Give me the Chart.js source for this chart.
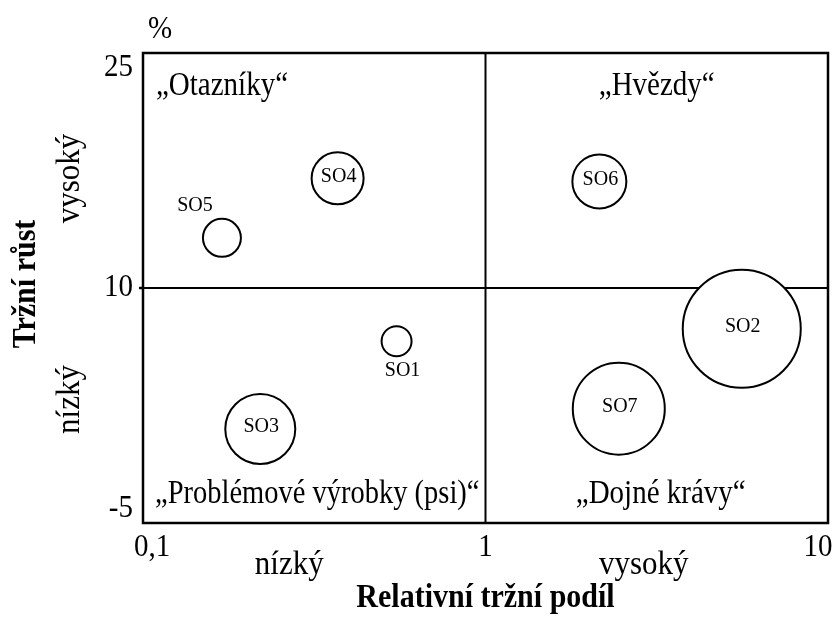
<!DOCTYPE html>
<html>
<head>
<meta charset="utf-8">
<script src="https://cdn.jsdelivr.net/npm/chart.js@4/dist/chart.umd.min.js"></script>
<style>
  body { margin: 0; background: #fff; }
</style>
</head>
<body>
<canvas id="bcg" width="837" height="623"></canvas>
<script>
// BCG matrix data
const names = ['SO1', 'SO2', 'SO3', 'SO4', 'SO5', 'SO6', 'SO7'];
const shares = [0.55, 5.6, 0.22, 0.37, 0.17, 2.15, 2.45];   // relativni trzni podil
const growth = [6.6, 7.4, 1.0, 17.0, 13.2, 16.8, 2.3];       // trzni rust %
const sizes = [15, 59, 35, 26, 19, 27, 46];

const xTicks = [0.1, 1, 10];
const xTickLabels = ['0,1', '1', '10'];
const yTicks = [-5, 10, 25];
const yTickLabels = ['-5', '10', '25'];

// where the bubble caption goes (offset from center), otherwise centered
const labelOffsets = { SO1: [6, 29], SO5: [-27, -32] };

const FONT = '"Liberation Serif", "Times New Roman", serif';

function txt(ctx, s, x, y, size, o) {
    o = o || {};
    ctx.save();
    ctx.translate(x, y);
    if (o.rot) ctx.rotate(o.rot);
    ctx.scale(1, o.sy || 1);
    ctx.font = (o.bold ? 'bold ' : '') + size + 'px ' + FONT;
    ctx.fillStyle = '#000';
    ctx.textAlign = o.align || 'center';
    ctx.textBaseline = o.base || 'middle';
    ctx.fillText(s, 0, 0);
    ctx.restore();
}

const matrixPlugin = {
    id: 'matrix',
    beforeDatasetsDraw(chart) {
        const { ctx, chartArea: a, scales: { x, y } } = chart;
        const mx = x.getPixelForValue(1);
        const my = y.getPixelForValue(10);
        ctx.save();
        ctx.strokeStyle = '#000';
        ctx.lineWidth = 2;
        ctx.beginPath();
        ctx.moveTo(mx, a.top); ctx.lineTo(mx, a.bottom);
        ctx.moveTo(a.left, my); ctx.lineTo(a.right, my);
        ctx.stroke();
        ctx.restore();
    },
    afterDraw(chart) {
        const { ctx, chartArea: a, scales: { x, y } } = chart;
        ctx.save();
        ctx.strokeStyle = '#000';
        ctx.lineWidth = 2.5;
        ctx.strokeRect(a.left, a.top, a.right - a.left, a.bottom - a.top);
        // small tick at 10
        ctx.beginPath();
        ctx.moveTo(a.left - 4, y.getPixelForValue(10));
        ctx.lineTo(a.left, y.getPixelForValue(10));
        ctx.stroke();
        ctx.restore();

        // y ticks
        yTicks.forEach((v, i) => {
            let py = y.getPixelForValue(v);
            if (i === 0) py -= 14;
            if (i === yTicks.length - 1) py += 15;
            txt(ctx, yTickLabels[i], a.left - 10, py, 29, { align: 'right', sy: 1.1 });
        });
        // x ticks
        xTicks.forEach((v, i) => {
            let px = x.getPixelForValue(v);
            if (i === 0) px += 9;
            if (i === xTicks.length - 1) px -= 10;
            txt(ctx, xTickLabels[i], px, a.bottom + 25, 29, { sy: 1.1 });
        });
        txt(ctx, '%', 160, 30, 29, { sy: 1.1 });

        const mx = x.getPixelForValue(1);
        const my = y.getPixelForValue(10);
        // axis sub labels
        txt(ctx, 'nízký', (a.left + mx) / 2 - 25, a.bottom + 42, 31, { sy: 1.1 });
        txt(ctx, 'vysoký', (mx + a.right) / 2 - 13, a.bottom + 42, 31, { sy: 1.1 });
        txt(ctx, 'Relativní tržní podíl', mx, a.bottom + 75, 30, { bold: true, sy: 1.15 });
        txt(ctx, 'vysoký', 70, (a.top + my) / 2 + 8, 31, { rot: -Math.PI / 2, sy: 1.1 });
        txt(ctx, 'nízký', 70, (my + a.bottom) / 2 - 6, 31, { rot: -Math.PI / 2, sy: 1.1 });
        txt(ctx, 'Tržní růst', 26, my - 4, 30, { bold: true, rot: -Math.PI / 2, sy: 1.15 });

        // quadrant names
        const q = { sy: 1.18, base: 'alphabetic' };
        txt(ctx, '\u201EOtazníky\u201C', a.left + 13, a.top + 42, 29, Object.assign({ align: 'left' }, q));
        txt(ctx, '\u201EHvězdy\u201C', (mx + a.right) / 2, a.top + 42, 29, q);
        txt(ctx, '\u201EProblémové výrobky (psi)\u201C', a.left + 12, a.bottom - 20, 28.5, Object.assign({ align: 'left' }, q));
        txt(ctx, '\u201EDojné krávy\u201C', (mx + a.right) / 2 + 4, a.bottom - 20, 29, q);

        // bubble captions
        const meta = chart.getDatasetMeta(0);
        meta.data.forEach((pt, i) => {
            const off = labelOffsets[names[i]] || [1, -2];
            txt(ctx, names[i], pt.x + off[0], pt.y + off[1], 20);
        });
    }
};

new Chart(document.getElementById('bcg'), {
    type: 'bubble',
    data: {
        datasets: [{
            data: names.map((n, i) => ({ x: shares[i], y: growth[i], r: sizes[i] })),
            backgroundColor: '#fff',
            borderColor: '#000',
            borderWidth: 2,
            hoverBorderWidth: 2,
            clip: false
        }]
    },
    options: {
        responsive: false,
        animation: false,
        events: [],
        layout: { autoPadding: false, padding: { left: 143, top: 53, right: 9, bottom: 100 } },
        plugins: { legend: { display: false }, tooltip: { enabled: false } },
        scales: {
            x: { type: 'logarithmic', min: 0.1, max: 10, display: false },
            y: { type: 'linear', min: -5, max: 25, display: false }
        }
    },
    plugins: [matrixPlugin]
});
</script>
</body>
</html>
